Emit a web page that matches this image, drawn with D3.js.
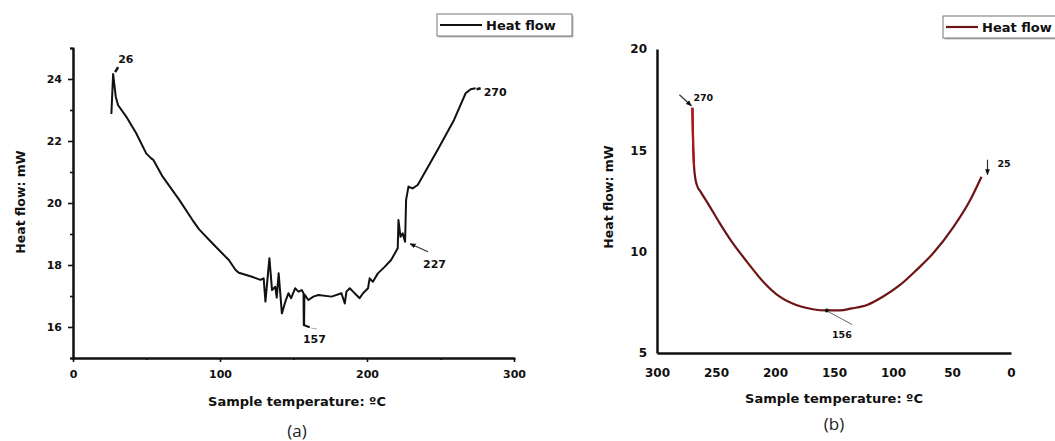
<!DOCTYPE html>
<html>
<head>
<meta charset="utf-8">
<script src="https://cdn.jsdelivr.net/npm/d3@7"></script>
<style>
  html, body { margin: 0; padding: 0; background: #fff; }
  svg text { font-family: "DejaVu Sans", sans-serif; }
</style>
</head>
<body>
<svg id="chart" width="1055" height="441"></svg>
<script>
// panel (a): heating run, temperature (ºC) / heat flow (mW)
const tempA = [26.1, 27.3, 29.1, 30.6, 36.3, 43, 49.8, 53.2, 54.7, 61, 72.3, 81.3, 85.8, 94.8, 106, 110.6,
  112.8, 121.8, 127.5, 129.7, 130.9, 133.6, 135.4, 137.6, 138.6, 139.9, 142.1, 144.8, 146.6, 148.4, 151.1,
  153.4, 155.6, 156.8, 157.0, 160.5, 157.2, 157.4, 160.1, 163.5, 166.9, 175.9, 182.6, 184.9, 186, 188.3,
  190.5, 192.8, 195, 197.3, 200.7, 201.8, 204, 207.4, 212, 216.4, 220.9, 221.4, 222.8, 224.3, 225.9,
  226.6, 228.2, 231, 234.5, 248, 259.2, 267.1, 270.5, 273.9];
const flowA = [22.87, 24.16, 23.43, 23.16, 22.78, 22.25, 21.6, 21.44, 21.39, 20.85, 20.1, 19.45, 19.15, 18.7, 18.16, 17.84,
  17.75, 17.62, 17.52, 17.57, 16.82, 18.22, 17.19, 17.3, 16.95, 17.73, 16.44, 16.87, 17.09, 16.93, 17.25,
  17.14, 17.19, 17.09, 16.06, 16.0, 16.06, 17.05, 16.87, 16.98, 17.03, 16.98, 17.09, 16.76, 17.14, 17.25,
  17.14, 17.03, 16.93, 17.09, 17.25, 17.57, 17.46, 17.73, 17.94, 18.16, 18.54, 19.45, 18.91, 19.02, 18.75,
  20.1, 20.53, 20.47, 20.58, 21.71, 22.68, 23.54, 23.67, 23.70];

// panel (b): cooling run from 270 ºC back to 25 ºC
const tempB = [270, 269.7, 269.3, 268.6, 267.5, 266, 263, 256, 247, 237, 224, 210, 196, 182, 168, 156,
  145, 135, 122, 108, 94, 80, 66, 49, 35, 25];
const flowB = [17.1, 16.2, 15.1, 14.2, 13.6, 13.25, 12.95, 12.3, 11.42, 10.52, 9.52, 8.52, 7.78, 7.37, 7.16, 7.1,
  7.1, 7.2, 7.37, 7.8, 8.36, 9.1, 9.92, 11.2, 12.5, 13.7];

const ticksXA = [0, 100, 200, 300];
const ticksYA = [16, 18, 20, 22, 24];
const ticksXB = [300, 250, 200, 150, 100, 50, 0];
const ticksYB = [5, 10, 15, 20];

// peak labels: temperature the label names, heat flow at that point
const notesA = [
  {t: 27.3, v: 24.16, label: "26"},
  {t: 273.9, v: 23.70, label: "270"},
  {t: 160.5, v: 16.0, label: "157"},
  {t: 225.9, v: 18.75, label: "227"}
];
const notesB = [
  {t: 270, v: 17.1, label: "270"},
  {t: 156, v: 7.1, label: "156"},
  {t: 25, v: 13.7, label: "25"}
];

const svg = d3.select("#chart");

svg.append("defs").append("marker")
  .attr("id", "head")
  .attr("viewBox", "0 0 10 10")
  .attr("refX", 9).attr("refY", 5)
  .attr("markerWidth", 5).attr("markerHeight", 5)
  .attr("orient", "auto")
  .append("path").attr("d", "M0,1 L10,5 L0,9 Z").attr("fill", "#111");

function styleTicks(g, size) {
  g.selectAll("text")
    .attr("font-size", size)
    .attr("font-weight", "bold")
    .attr("fill", "#111");
  g.select(".domain").attr("stroke", "#111").attr("stroke-width", 2);
  g.selectAll(".tick line").attr("stroke", "#111").attr("stroke-width", 1.6);
}

function titles(p) {
  svg.append("text")
    .attr("transform", `translate(${p.yTitleX},${p.yTitleY}) rotate(-90)`)
    .attr("text-anchor", "middle")
    .attr("font-size", 12.5).attr("font-weight", "bold").attr("fill", "#111")
    .text("Heat flow: mW");
  svg.append("text")
    .attr("x", p.xTitleX).attr("y", p.xTitleY)
    .attr("text-anchor", "middle")
    .attr("font-size", 13).attr("font-weight", "bold").attr("fill", "#111")
    .text("Sample temperature: ºC");
  svg.append("text")
    .attr("x", p.xTitleX).attr("y", p.capY)
    .attr("text-anchor", "middle")
    .attr("font-size", 17).attr("fill", "#222")
    .style("font-family", "'Open Sans', sans-serif")
    .text(p.cap);
}

function legend(x, y, w, color, lineLen) {
  const g = svg.append("g").attr("transform", `translate(${x},${y})`);
  g.append("rect").attr("x", 1.5).attr("y", 1.5).attr("width", w).attr("height", 22)
    .attr("fill", "#bbb");
  g.append("rect").attr("width", w).attr("height", 22)
    .attr("fill", "#fff").attr("stroke", "#777").attr("stroke-width", 1);
  g.append("line").attr("x1", 3).attr("x2", 3 + lineLen).attr("y1", 11).attr("y2", 11)
    .attr("stroke", color).attr("stroke-width", 2.2);
  g.append("text").attr("x", lineLen + 7).attr("y", 16)
    .attr("font-size", 13).attr("font-weight", "bold").attr("fill", "#111")
    .text("Heat flow");
}

// ---------- (a) ----------
const xA = d3.scaleLinear().domain([0, 300]).range([73, 514]);
const yA = d3.scaleLinear().domain([15, 25]).range([358, 48]);

svg.append("g").attr("transform", "translate(0,358)")
  .call(d3.axisBottom(xA).tickValues([50, 150, 250]).tickSize(2).tickFormat(""))
  .call(g => styleTicks(g, 11));
svg.append("g").attr("transform", "translate(0,358)")
  .call(d3.axisBottom(xA).tickValues(ticksXA).tickSize(4).tickPadding(8).tickSizeOuter(0))
  .call(g => styleTicks(g, 11));
svg.append("g").attr("transform", "translate(73,0)")
  .call(d3.axisLeft(yA).tickValues([15, 17, 19, 21, 23, 25]).tickSize(3).tickFormat(""))
  .call(g => styleTicks(g, 11));
svg.append("g").attr("transform", "translate(73,0)")
  .call(d3.axisLeft(yA).tickValues(ticksYA).tickSize(5).tickPadding(6).tickSizeOuter(0))
  .call(g => styleTicks(g, 11));

const lineA = d3.line().x((d, i) => xA(tempA[i])).y((d, i) => yA(flowA[i]));
svg.append("path")
  .attr("d", lineA(tempA))
  .attr("fill", "none").attr("stroke", "#111").attr("stroke-width", 2)
  .attr("stroke-linejoin", "round");

const noteA = svg.append("g").attr("font-size", 11).attr("font-weight", "bold").attr("fill", "#111");
{
  const [p26, p270, p157, p227] = notesA;
  let x = xA(p26.t), y = yA(p26.v);
  svg.append("line").attr("x1", x + 2).attr("y1", y - 2).attr("x2", x + 5).attr("y2", y - 7)
    .attr("stroke", "#111").attr("stroke-width", 2.5);
  noteA.append("text").attr("x", x + 5).attr("y", y - 11).text(p26.label);

  x = xA(p270.t); y = yA(p270.v);
  svg.append("line").attr("x1", x + 1).attr("y1", y + 1).attr("x2", x + 5).attr("y2", y)
    .attr("stroke", "#111").attr("stroke-width", 2.5);
  noteA.append("text").attr("x", x + 8).attr("y", y + 8).text(p270.label);

  x = xA(p157.t); y = yA(p157.v);
  svg.append("line").attr("x1", x + 2).attr("y1", y + 1).attr("x2", x + 8).attr("y2", y + 2)
    .attr("stroke", "#aaa").attr("stroke-width", 1);
  noteA.append("text").attr("x", x - 6).attr("y", y + 16).text(p157.label);

  x = xA(p227.t); y = yA(p227.v);
  svg.append("line").attr("x1", x + 23).attr("y1", y + 10).attr("x2", x + 5).attr("y2", y + 2)
    .attr("stroke", "#333").attr("stroke-width", 1.2).attr("marker-end", "url(#head)");
  noteA.append("text").attr("x", x + 18).attr("y", y + 26).text(p227.label);
}

legend(437, 14, 135, "#111", 42);
titles({yTitleX: 25, yTitleY: 202, xTitleX: 297, xTitleY: 406, capY: 437, cap: "(a)"});

// ---------- (b) ----------
const xB = d3.scaleLinear().domain([300, 0]).range([657, 1011]);
const yB = d3.scaleLinear().domain([5, 20]).range([353, 49]);

svg.append("g").attr("transform", "translate(0,353)")
  .call(d3.axisBottom(xB).tickValues(ticksXB).tickSize(0).tickPadding(15))
  .call(g => styleTicks(g, 12))
  .call(g => g.select(".domain").attr("stroke-width", 2.5));
svg.append("g").attr("transform", "translate(657,0)")
  .call(d3.axisLeft(yB).tickValues(ticksYB).tickSize(0).tickPadding(10))
  .call(g => styleTicks(g, 12))
  .call(g => g.select(".domain").attr("stroke-width", 2.5));

const lineB = d3.line().curve(d3.curveMonotoneX)
  .x((d, i) => xB(tempB[i])).y((d, i) => yB(flowB[i]));
svg.append("path")
  .attr("d", lineB(tempB))
  .attr("fill", "none").attr("stroke", "#6e1414").attr("stroke-width", 2.2);
// brighter start of the run near 270 ºC
const topIdx = d3.range(4);
svg.append("path")
  .attr("d", d3.line().x(i => xB(tempB[i])).y(i => yB(flowB[i]))(topIdx))
  .attr("fill", "none").attr("stroke", "#b01616").attr("stroke-width", 2.2);

const noteB = svg.append("g").attr("font-size", 9.5).attr("font-weight", "bold").attr("fill", "#111");
{
  const [p270, p156, p25] = notesB;
  let x = xB(p270.t), y = yB(p270.v);
  svg.append("line").attr("x1", x - 13).attr("y1", y - 13).attr("x2", x - 1).attr("y2", y - 2)
    .attr("stroke", "#333").attr("stroke-width", 1.2).attr("marker-end", "url(#head)");
  noteB.append("text").attr("x", x + 1).attr("y", y - 7).text(p270.label);

  x = xB(p156.t); y = yB(p156.v);
  svg.append("circle").attr("cx", x).attr("cy", y).attr("r", 2).attr("fill", "#111");
  svg.append("line").attr("x1", x + 1).attr("y1", y + 1).attr("x2", x + 25).attr("y2", y + 14)
    .attr("stroke", "#666").attr("stroke-width", 1);
  noteB.append("text").attr("x", x + 5).attr("y", y + 28).text(p156.label);

  x = xB(p25.t); y = yB(p25.v);
  svg.append("line").attr("x1", x + 6).attr("y1", y - 17).attr("x2", x + 6).attr("y2", y - 2)
    .attr("stroke", "#333").attr("stroke-width", 1.2).attr("marker-end", "url(#head)");
  noteB.append("text").attr("x", x + 16).attr("y", y - 10).text(p25.label);
}

legend(943, 16, 130, "#6e1414", 32);
titles({yTitleX: 613, yTitleY: 197, xTitleX: 834, xTitleY: 403, capY: 430, cap: "(b)"});
</script>
</body>
</html>
